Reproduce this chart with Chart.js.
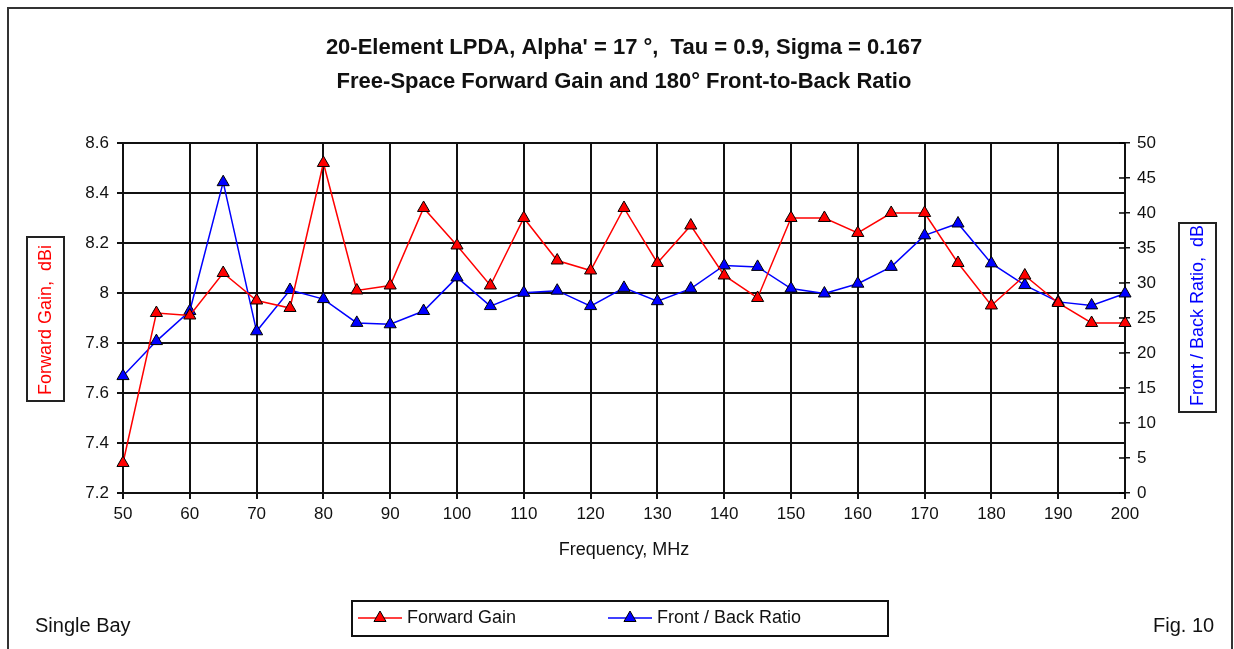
<!DOCTYPE html>
<html>
<head>
<meta charset="utf-8">
<title>20-Element LPDA - Forward Gain and F/B Ratio</title>
<script src="https://cdn.jsdelivr.net/npm/chart.js@4.4.1/dist/chart.umd.min.js"></script>
<style>
  html, body { margin: 0; padding: 0; background: #fff; }
  #wrap { position: relative; width: 1234px; height: 649px; overflow: hidden; }
</style>
</head>
<body>
<div id="wrap"><canvas id="lpdaChart" width="1234" height="649"></canvas></div>
<script>
// frequency points, MHz
const freqMHz = [50, 55, 60, 65, 70, 75, 80, 85, 90, 95, 100, 105, 110, 115, 120, 125,
  130, 135, 140, 145, 150, 155, 160, 165, 170, 175, 180, 185, 190, 195, 200];
// free-space forward gain, dBi (left axis)
const forwardGain = [7.32, 7.92, 7.91, 8.08, 7.97, 7.94, 8.52, 8.01, 8.03, 8.34, 8.19, 8.03,
  8.30, 8.13, 8.09, 8.34, 8.12, 8.27, 8.07, 7.98, 8.30, 8.30, 8.24, 8.32, 8.32, 8.12, 7.95,
  8.07, 7.96, 7.88, 7.88];
// 180 degree front-to-back ratio, dB (right axis)
const frontBack = [16.7, 21.7, 26.0, 44.4, 23.1, 29.0, 27.7, 24.3, 24.1, 26.0, 30.8, 26.7,
  28.6, 28.9, 26.7, 29.3, 27.4, 29.2, 32.5, 32.3, 29.2, 28.5, 29.9, 32.3, 36.8, 38.5, 32.8,
  29.7, 27.3, 26.8, 28.5];

const freqRange = [50, 200, 10];
const gainRange = [7.2, 8.6, 0.2];
const fbRange = [0, 50, 5];

const titleLines = ["20-Element LPDA, Alpha' = 17 °,  Tau = 0.9, Sigma = 0.167",
  "Free-Space Forward Gain and 180° Front-to-Back Ratio"];

const FONT = '"Liberation Sans", Arial, sans-serif';
Chart.defaults.font.family = FONT;
Chart.defaults.color = '#111';

function toPoints(ys) {
  return freqMHz.map((f, i) => ({ x: f, y: ys[i] }));
}

function triangle(ctx, cx, cy, r, fill) {
  ctx.beginPath();
  ctx.moveTo(cx, cy - r);
  ctx.lineTo(cx + r * 0.866, cy + r * 0.5);
  ctx.lineTo(cx - r * 0.866, cy + r * 0.5);
  ctx.closePath();
  ctx.fillStyle = fill;
  ctx.fill();
  ctx.lineWidth = 1;
  ctx.strokeStyle = '#000';
  ctx.stroke();
}

// rotated axis title inside a little box, text clipped to the box
function boxedTitle(ctx, x, y, w, h, text, color, bottomY) {
  ctx.save();
  ctx.lineWidth = 2;
  ctx.strokeStyle = '#222';
  ctx.strokeRect(x, y, w, h);
  ctx.beginPath();
  ctx.rect(x + 1, y + 1, w - 2, h - 2);
  ctx.clip();
  ctx.translate(x + w / 2 + 1, bottomY);
  ctx.rotate(-Math.PI / 2);
  ctx.font = '18px ' + FONT;
  ctx.fillStyle = color;
  ctx.textAlign = 'left';
  ctx.textBaseline = 'middle';
  ctx.fillText(text, 0, 0);
  ctx.restore();
}

const extras = {
  id: 'extras',
  afterDraw(chart) {
    const ctx = chart.ctx;
    const area = chart.chartArea;
    ctx.save();

    // right axis ticks cross the axis line
    const y1 = chart.scales.y1;
    ctx.strokeStyle = '#000';
    ctx.lineWidth = 1.5;
    y1.ticks.forEach(t => {
      const py = y1.getPixelForValue(t.value);
      ctx.beginPath();
      ctx.moveTo(area.right - 6, py);
      ctx.lineTo(area.right, py);
      ctx.stroke();
    });

    // outer frame
    ctx.lineWidth = 2;
    ctx.strokeStyle = '#333';
    ctx.strokeRect(8, 8, 1224, 700);

    boxedTitle(ctx, 27, 237, 37, 164, 'Forward Gain,  dBi', '#ff0000', 395);
    boxedTitle(ctx, 1179, 223, 37, 189, 'Front / Back Ratio,  dB', '#0000ff', 406);

    // legend box
    ctx.lineWidth = 2;
    ctx.strokeStyle = '#111';
    ctx.strokeRect(352, 601, 536, 35);
    const legendX = [358, 608];
    ctx.font = '18px ' + FONT;
    ctx.textBaseline = 'middle';
    ctx.textAlign = 'left';
    chart.data.datasets.forEach((ds, i) => {
      const lx = legendX[i], ly = 618;
      ctx.strokeStyle = ds.borderColor;
      ctx.lineWidth = 1.5;
      ctx.beginPath();
      ctx.moveTo(lx, ly);
      ctx.lineTo(lx + 44, ly);
      ctx.stroke();
      triangle(ctx, lx + 22, ly, 7, ds.pointBackgroundColor);
      ctx.fillStyle = '#111';
      ctx.fillText(ds.label, lx + 49, ly);
    });

    // corner notes
    ctx.font = '20px ' + FONT;
    ctx.fillStyle = '#111';
    ctx.fillText('Single Bay', 35, 626);
    ctx.fillText('Fig. 10', 1153, 626);
    ctx.restore();
  }
};

const gridStyle = { color: '#111', lineWidth: 2, tickLength: 6 };

new Chart(document.getElementById('lpdaChart'), {
  type: 'line',
  data: {
    datasets: [
      {
        label: 'Forward Gain',
        data: toPoints(forwardGain),
        yAxisID: 'y',
        borderColor: '#ff0000',
        borderWidth: 1.5,
        pointStyle: 'triangle',
        pointRadius: 7,
        pointBackgroundColor: '#ff0000',
        pointBorderColor: '#000',
        pointBorderWidth: 1,
        tension: 0,
        clip: false
      },
      {
        label: 'Front / Back Ratio',
        data: toPoints(frontBack),
        yAxisID: 'y1',
        borderColor: '#0000ff',
        borderWidth: 1.5,
        pointStyle: 'triangle',
        pointRadius: 7,
        pointBackgroundColor: '#0000ff',
        pointBorderColor: '#000',
        pointBorderWidth: 1,
        tension: 0,
        clip: false
      }
    ]
  },
  options: {
    responsive: false,
    animation: false,
    devicePixelRatio: 1,
    layout: { padding: 0 },
    plugins: {
      legend: { display: false },
      tooltip: { enabled: false },
      title: {
        display: true,
        fullSize: false,
        text: titleLines,
        color: '#111',
        font: { size: 22, weight: 'bold', lineHeight: 1.545 },
        padding: { top: 31, bottom: 44 }
      }
    },
    scales: {
      x: {
        type: 'linear',
        min: freqRange[0],
        max: freqRange[1],
        ticks: { stepSize: freqRange[2], padding: 5, font: { size: 17 } },
        grid: gridStyle,
        border: { color: '#111', width: 2 },
        title: {
          display: true,
          text: 'Frequency, MHz',
          font: { size: 18 },
          padding: { top: 0, bottom: 88 }
        },
        afterFit(s) { s.height = 156; }
      },
      y: {
        position: 'left',
        min: gainRange[0],
        max: gainRange[1],
        ticks: {
          stepSize: gainRange[2],
          padding: 8,
          font: { size: 17 },
          callback: v => String(+v.toFixed(1))
        },
        grid: gridStyle,
        border: { color: '#111', width: 2 },
        afterFit(s) { s.width = 123; }
      },
      y1: {
        position: 'right',
        min: fbRange[0],
        max: fbRange[1],
        ticks: { stepSize: fbRange[2], padding: 7, font: { size: 17 } },
        grid: { drawOnChartArea: false, color: '#111', lineWidth: 1.5, tickLength: 5 },
        border: { color: '#111', width: 2 },
        afterFit(s) { s.width = 109; }
      }
    }
  },
  plugins: [extras]
});
</script>
</body>
</html>
